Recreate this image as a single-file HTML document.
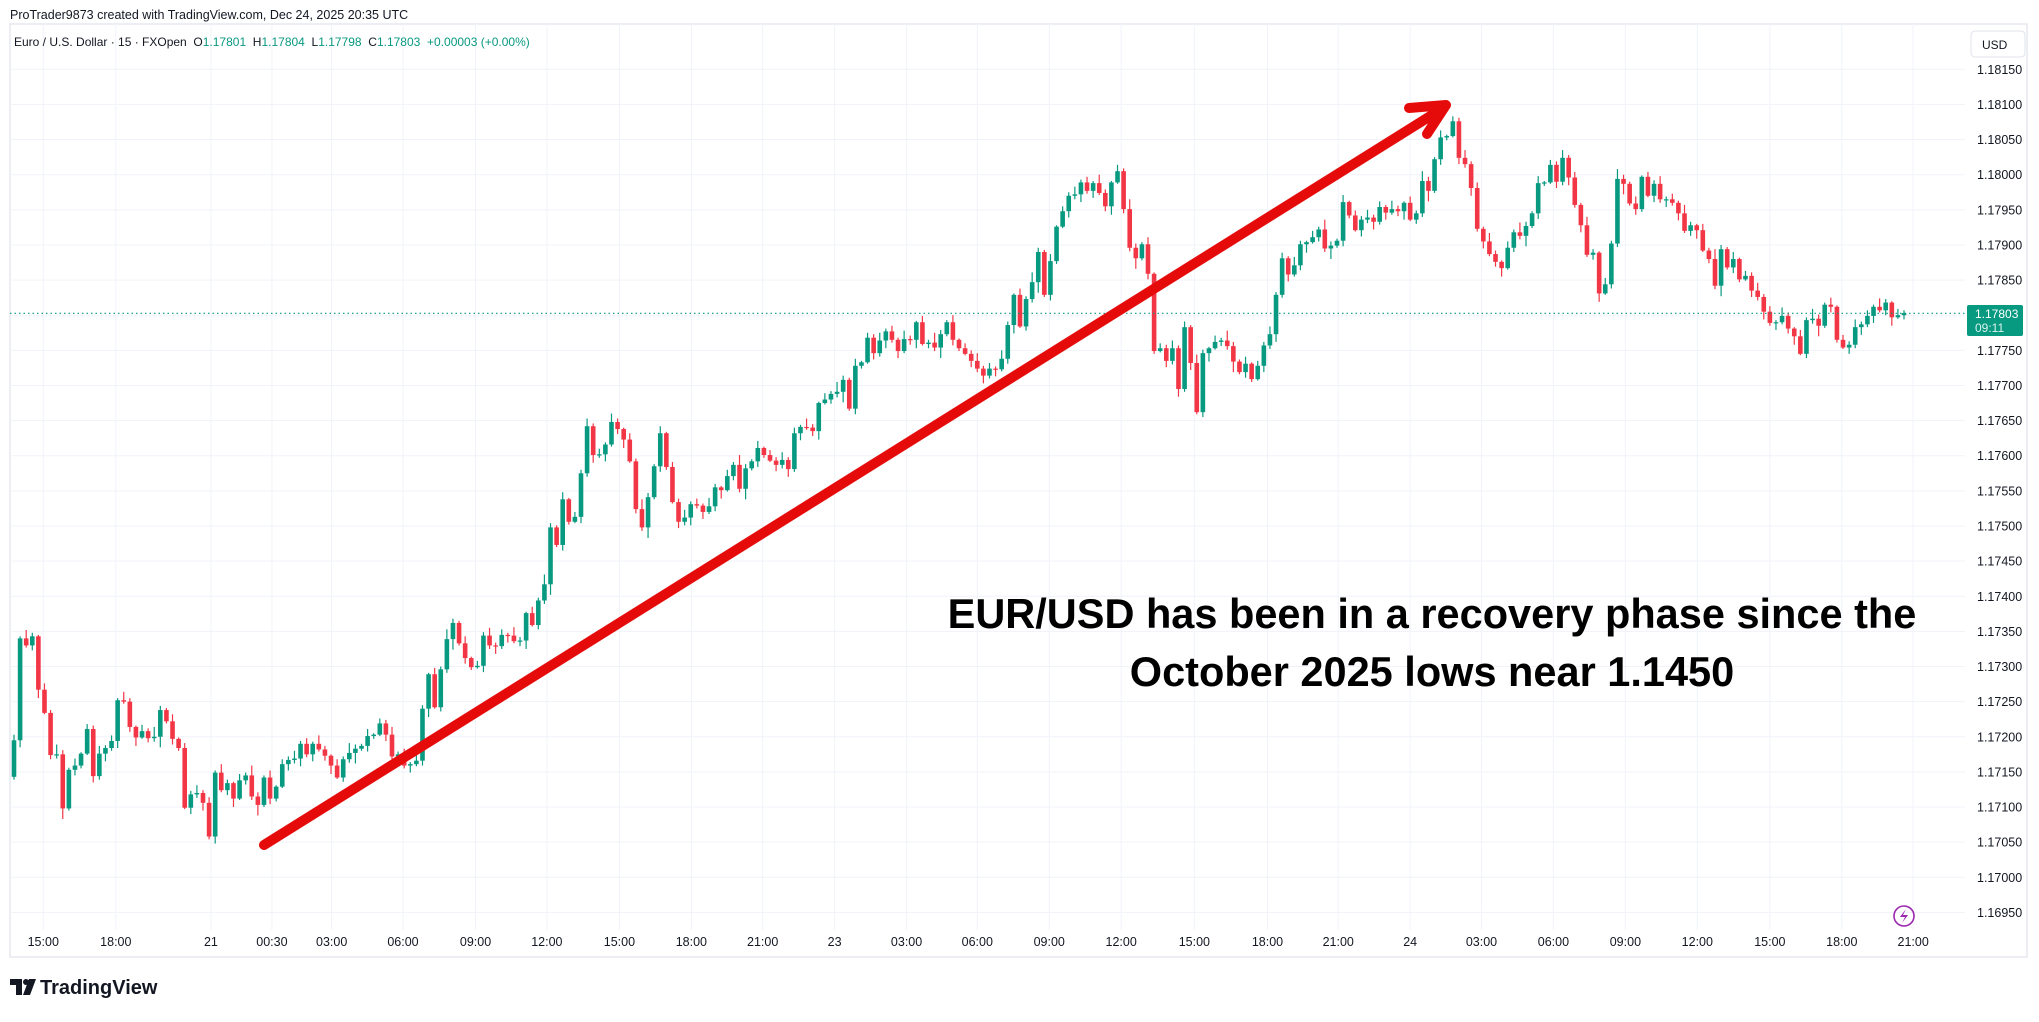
<!DOCTYPE html>
<html><head><meta charset="utf-8"><style>
html,body{margin:0;padding:0;background:#fff;}
body{width:2039px;height:1017px;overflow:hidden;font-family:"Liberation Sans",sans-serif;}
svg text{font-family:"Liberation Sans",sans-serif;}
</style></head><body>
<svg id="chart" width="2039" height="1017" viewBox="0 0 2039 1017" xmlns="http://www.w3.org/2000/svg">
<rect x="0" y="0" width="2039" height="1017" fill="#ffffff"/>
<text x="10" y="19" font-size="12.5" fill="#131722">ProTrader9873 created with TradingView.com, Dec 24, 2025 20:35 UTC</text>
<rect x="10" y="24" width="2017" height="933" fill="none" stroke="#e6e9ef" stroke-width="1.5"/>
<g id="grid"></g>
<g id="candles"></g>
<line x1="10" x2="1965" y1="313.3" y2="313.3" stroke="#089981" stroke-width="1.2" stroke-dasharray="1.5,3"/>
<g id="yaxis"></g>
<g id="xaxis"></g>
<rect x="1971" y="31" width="54" height="26" rx="4" fill="#fff" stroke="#e0e3eb"/>
<text x="1982" y="49" font-size="12" fill="#131722">USD</text>
<rect x="1967" y="305" width="56" height="31" rx="2" fill="#089981"/>
<text x="1975" y="318" font-size="12" fill="#fff">1.17803</text>
<text x="1975" y="332" font-size="12" fill="#d9f2ec">09:11</text>
<text x="14" y="46" font-size="12" fill="#131722" style="white-space:pre">Euro / U.S. Dollar · 15 · FXOpen  O<tspan fill="#089981">1.17801</tspan>  H<tspan fill="#089981">1.17804</tspan>  L<tspan fill="#089981">1.17798</tspan>  C<tspan fill="#089981">1.17803</tspan>  <tspan fill="#089981">+0.00003 (+0.00%)</tspan></text>
<g stroke="#e60b0b" stroke-width="10" stroke-linecap="round" stroke-linejoin="round" fill="none">
<line x1="264" y1="845" x2="1440" y2="110"/>
<polyline points="1409,108 1446,105 1427,134"/>
</g>
<text x="1432" y="628" font-size="41.5" font-weight="bold" text-anchor="middle" fill="#000">EUR/USD has been in a recovery phase since the</text>
<text x="1432" y="686" font-size="41.5" font-weight="bold" text-anchor="middle" fill="#000">October 2025 lows near 1.1450</text>
<g>
<circle cx="1904" cy="916" r="10" fill="none" stroke="#9c27b0" stroke-width="1.6"/>
<path d="M1906,909 L1900,917 L1905,917 L1902,923 L1908,915 L1903,915 Z" fill="#9c27b0"/>
</g>
<g>
<path d="M10,979 H22 V995 H16 V985 H10 Z" fill="#131722"/>
<circle cx="26" cy="982" r="3" fill="#131722"/>
<path d="M29,979 H36 L30,995 H23 Z" fill="#131722"/>
<text x="40" y="994" font-size="20" font-weight="bold" fill="#131722">TradingView</text>
</g>
</svg>
<script>
const firstOpen = 143;
const closes = [195,340,330,343,267,234,174,175,98,153,159,176,211,144,176,184,194,252,250,214,199,208,198,200,238,222,197,184,99,118,120,106,58,149,124,134,112,138,145,115,103,142,112,129,161,167,169,190,175,190,182,173,159,142,168,177,183,187,201,203,219,203,172,175,159,161,166,240,289,242,296,339,362,333,312,299,301,344,
330,329,345,344,336,337,376,359,394,417,498,473,538,506,513,575,642,601,602,616,648,638,623,592,524,498,541,585,632,584,534,506,512,531,529,520,528,555,551,571,587,553,582,592,611,601,593,587,594,581,632,641,640,635,675,680,688,691,708,667,728,733,768,746,764,777,765,749,766,765,790,759,761,754,773,790,765,753,745,735,724,714,724,723,738,786,829,784,823,847,890,829,877,926,
948,970,972,989,977,988,974,955,989,1005,951,896,881,901,859,749,753,735,753,695,783,732,662,746,753,762,764,756,734,719,731,709,728,757,773,829,881,858,871,901,904,911,922,895,899,906,961,942,921,936,939,933,954,946,951,948,960,936,945,991,977,1022,1053,1055,1076,1024,1015,981,923,905,887,876,867,896,918,913,927,945,988,989,
1014,990,1024,996,957,928,886,889,831,844,902,994,987,959,951,997,970,987,965,965,960,945,920,928,921,892,880,842,894,868,880,851,856,835,826,805,789,790,799,781,770,745,793,795,785,815,812,765,754,758,783,787,799,812,807,818,797,800,803];
const wickUp = [8,3,12,5,2,9,4,14,6,3,10,2,7,5,11,4];
const wickDown = [4,10,3,7,12,2,6,5,15,3,8,4,2,9,5,11];
const priceTicks = [1.1695,1.17,1.1705,1.171,1.1715,1.172,1.1725,1.173,1.1735,1.174,1.1745,1.175,1.1755,1.176,1.1765,1.177,1.1775,1.178,1.1785,1.179,1.1795,1.18,1.1805,1.181,1.1815];
const timeLabels = ["15:00","18:00","21","00:30","03:00","06:00","09:00","12:00","15:00","18:00","21:00","23","03:00","06:00","09:00","12:00","15:00","18:00","21:00","24","03:00","06:00","09:00","12:00","15:00","18:00","21:00"];
const timeBarIndex = [4.8,16.7,32.3,42.3,52.1,63.8,75.7,87.4,99.3,111.1,122.8,134.6,146.4,158.0,169.8,181.6,193.6,205.6,217.2,229.0,240.7,252.5,264.3,276.1,288.0,299.8,311.5];

const NS = "http://www.w3.org/2000/svg";
const N = closes.length;
const X0 = 14, X1 = 1904, STEP = (X1 - X0) / (N - 1);
function xScale(i){ return X0 + i * STEP; }
function yPrice(p){ return 69.3 + (1.1815 - p) / 0.0005 * 35.13; }
function yUnit(u){ return yPrice(1.17 + u / 100000); }
function mk(tag, attrs){ const e = document.createElementNS(NS, tag); for (const k in attrs) e.setAttribute(k, attrs[k]); return e; }

const grid = document.getElementById('grid');
const yaxis = document.getElementById('yaxis');
priceTicks.forEach(p => {
  const y = yPrice(p);
  const l = mk('line', {x1: 10, x2: 1965, y1: y, y2: y, stroke: '#f0f3fa', 'stroke-width': 1});
  
  
  grid.appendChild(l);
  const t = mk('text', {x: 1977, y: y + 4.5, 'font-size': 12.5, fill: '#131722'});
  
  
  t.textContent = p.toFixed(5);
  yaxis.appendChild(t);
});
const xaxis = document.getElementById('xaxis');
timeLabels.forEach((lab, k) => {
  const x = xScale(timeBarIndex[k]);
  const l = mk('line', {x1: x, x2: x, y1: 24, y2: 930, stroke: '#f0f3fa', 'stroke-width': 1});
  
  
  grid.appendChild(l);
  const t = mk('text', {x: x, y: 946, 'font-size': 12.5, fill: '#131722', 'text-anchor': 'middle'});
  
  
  t.textContent = lab;
  xaxis.appendChild(t);
});

const cg = document.getElementById('candles');
let prev = firstOpen;
closes.forEach((c, i) => {
  const o = prev;
  const hi = Math.max(o, c) + wickUp[i % wickUp.length];
  const lo = Math.min(o, c) - wickDown[i % wickDown.length];
  const col = c >= o ? '#089981' : '#f23645';
  const x = xScale(i);
  const w = mk('line', {x1: x, x2: x, y1: yUnit(hi), y2: yUnit(lo), stroke: col, 'stroke-width': 1.2});
  
  
  cg.appendChild(w);
  const yt = yUnit(Math.max(o, c)), yb = yUnit(Math.min(o, c));
  const b = mk('rect', {x: x - 2.3, y: yt, width: 4.6, height: Math.max(1.2, yb - yt), fill: col});
  
  
  cg.appendChild(b);
  prev = c;
});
</script>
</body></html>
